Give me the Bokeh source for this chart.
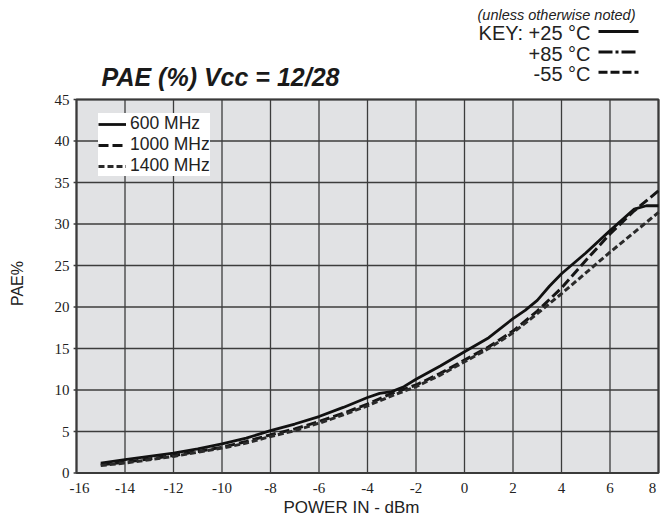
import math
from bokeh.plotting import figure
from bokeh.models import (Range1d, Label, LabelSet, Arrow, Legend, LegendItem, ColumnDataSource)
from bokeh.embed import file_html
from bokeh.resources import INLINE

# ---- data ----
x_600 = [-15, -14, -13, -12, -11, -10, -9, -8, -7, -6, -5, -4, -3.5, -3, -2.5, -2, -1, 0, 1, 2, 2.5, 3, 3.5, 4, 5, 6, 6.5, 7, 7.5, 8]
pae_600 = [1.2, 1.6, 2.0, 2.4, 2.9, 3.5, 4.2, 5.1, 5.9, 6.8, 7.9, 9.1, 9.6, 9.8, 10.4, 11.3, 12.9, 14.6, 16.3, 18.6, 19.6, 20.8, 22.5, 24.0, 26.5, 29.2, 30.5, 31.8, 32.2, 32.2]

x_1000 = [-15, -14, -13, -12, -11, -10, -9, -8, -7, -6, -5, -4, -3, -2, -1, 0, 1, 2, 3, 4, 5, 6, 7, 8]
pae_1000 = [1.0, 1.3, 1.7, 2.1, 2.6, 3.1, 3.8, 4.6, 5.3, 6.2, 7.2, 8.3, 9.6, 10.6, 12.0, 13.6, 15.2, 17.1, 19.5, 22.3, 25.6, 28.8, 31.6, 34.0]

x_1400 = [-15, -14, -13, -12, -11, -10, -9, -8, -7, -6, -5, -4, -3, -2, -1, 0, 1, 2, 3, 4, 5, 6, 7, 8]
pae_1400 = [0.9, 1.2, 1.6, 2.0, 2.5, 3.0, 3.6, 4.4, 5.1, 6.0, 7.0, 8.1, 9.3, 10.4, 11.8, 13.4, 15.0, 16.9, 19.2, 21.6, 24.1, 26.6, 29.0, 31.4]

x_ticks = list(range(-16, 9, 2))
y_ticks = list(range(0, 46, 5))
x_tick_labels = [str(t) for t in x_ticks]
y_tick_labels = [str(t) for t in y_ticks]
series_labels = ["600 MHz", "1000 MHz", "1400 MHz"]
title_text = "PAE (%) Vcc = 12/28"
note_text = "(unless otherwise noted)"
key_texts = ["KEY: +25 °C", "+85 °C", "-55 °C"]
x_title = "POWER IN - dBm"
y_title = "PAE%"

FONT = "'Liberation Sans', Arial, Helvetica, sans-serif"
X_MIN, X_MAX = x_ticks[0], x_ticks[-1]
Y_MIN, Y_MAX = y_ticks[0], y_ticks[-1]
TEXT_COLOR = "#222222"

# small horizontal nudges (px) so that the end labels stay inside the page
x_label_nudge = [3] + [0] * (len(x_ticks) - 2) + [-6]

# the frame covers the whole canvas, so every text is drawn inside it
p = figure(width=660, height=521, x_range=Range1d(-19.134, 8.0825), y_range=Range1d(-5.843, 56.928),
           output_backend="svg", toolbar_location=None,
           min_border_left=0, min_border_right=0, min_border_top=0, min_border_bottom=0)

p.background_fill_color = "white"
p.border_fill_color = "white"
p.outline_line_color = None
p.xgrid.visible = False
p.ygrid.visible = False
p.xaxis.visible = False
p.yaxis.visible = False

# plot area background, grid, ticks and outline
p.quad(left=[X_MIN], right=[X_MAX], bottom=[Y_MIN], top=[Y_MAX],
       fill_color="#e1e2e4", line_color=None, level="underlay")
p.segment(x0=x_ticks, y0=[Y_MIN] * len(x_ticks), x1=x_ticks, y1=[Y_MAX] * len(x_ticks),
          line_color="#3c3c3c", line_width=1.3, level="underlay")
p.segment(x0=[X_MIN - 0.12] * len(y_ticks), y0=y_ticks, x1=[X_MAX] * len(y_ticks), y1=y_ticks,
          line_color="#3c3c3c", line_width=1.3, level="underlay")
p.quad(left=[X_MIN], right=[X_MAX], bottom=[Y_MIN], top=[Y_MAX],
       fill_color=None, line_color="#3a3a3a", line_width=2.2, level="underlay")

# tick labels and axis titles
xt_src = ColumnDataSource(dict(x=x_ticks, y=[Y_MIN] * len(x_ticks), text=x_tick_labels,
                               dx=x_label_nudge))
p.add_layout(LabelSet(x="x", y="y", text="text", source=xt_src, x_offset="dx", y_offset=-15,
                      text_font=FONT, text_font_size="15px", text_color=TEXT_COLOR,
                      text_align="center", text_baseline="middle"))
yt_src = ColumnDataSource(dict(x=[X_MIN] * len(y_ticks), y=y_ticks, text=y_tick_labels))
p.add_layout(LabelSet(x="x", y="y", text="text", source=yt_src, x_offset=-7,
                      text_font=FONT, text_font_size="15px", text_color=TEXT_COLOR,
                      text_align="right", text_baseline="middle"))
p.add_layout(Label(x=-4.66, y=-4.10, text=x_title, text_font=FONT, text_font_size="17px",
                   text_color=TEXT_COLOR, text_align="center", text_baseline="middle"))
p.add_layout(Label(x=-18.43, y=22.83, text=y_title, text_font=FONT, text_font_size="16px",
                   text_color=TEXT_COLOR, text_align="center", text_baseline="middle",
                   angle=math.pi / 2))

# series
r600 = p.line(x_600, pae_600, line_color="#111111", line_width=2.8)
r1000 = p.line(x_1000, pae_1000, line_color="#151515", line_width=3.0, line_dash="10 4")
r1400 = p.line(x_1400, pae_1400, line_color="#2a2a2a", line_width=3.0, line_dash="6 3")

legend = Legend(items=[LegendItem(label=series_labels[0], renderers=[r600]),
                       LegendItem(label=series_labels[1], renderers=[r1000]),
                       LegendItem(label=series_labels[2], renderers=[r1400])],
                location=(98, 345))
legend.background_fill_color = "white"
legend.background_fill_alpha = 1.0
legend.border_line_color = None
legend.label_text_font = FONT
legend.label_text_font_size = "17.5px"
legend.label_text_color = TEXT_COLOR
legend.glyph_width = 28
legend.glyph_height = 18
legend.label_height = 18
legend.label_standoff = 4
legend.spacing = -3
legend.padding = 3
legend.margin = 0
p.add_layout(legend, "center")

# title
p.add_layout(Label(x=-10.06, y=47.71, text=title_text, text_font=FONT,
                   text_font_size="25px", text_font_style="bold italic", text_color="#1a1a1a",
                   text_align="center", text_baseline="middle"))

# key block
p.add_layout(Label(x=7.05, y=55.24, text=note_text, text_font=FONT,
                   text_font_size="14.5px", text_font_style="italic", text_color=TEXT_COLOR,
                   text_align="right", text_baseline="middle"))
key_text_y = [53.07, 50.54, 48.07]
key_line_y = [53.19, 50.72, 48.29]
key_dash = ["solid", "14 3 3 3", "9 3"]
for t, ty, ly, d in zip(key_texts, key_text_y, key_line_y, key_dash):
    p.add_layout(Label(x=5.196, y=ty, text=t, text_font=FONT, text_font_size="20px",
                       text_color=TEXT_COLOR, text_align="right", text_baseline="middle"))
    p.add_layout(Arrow(end=None, x_start=5.526, y_start=ly, x_end=7.175, y_end=ly,
                       line_color="#111111", line_width=3, line_dash=d))

open("out.html", "w").write(file_html(p, INLINE))
